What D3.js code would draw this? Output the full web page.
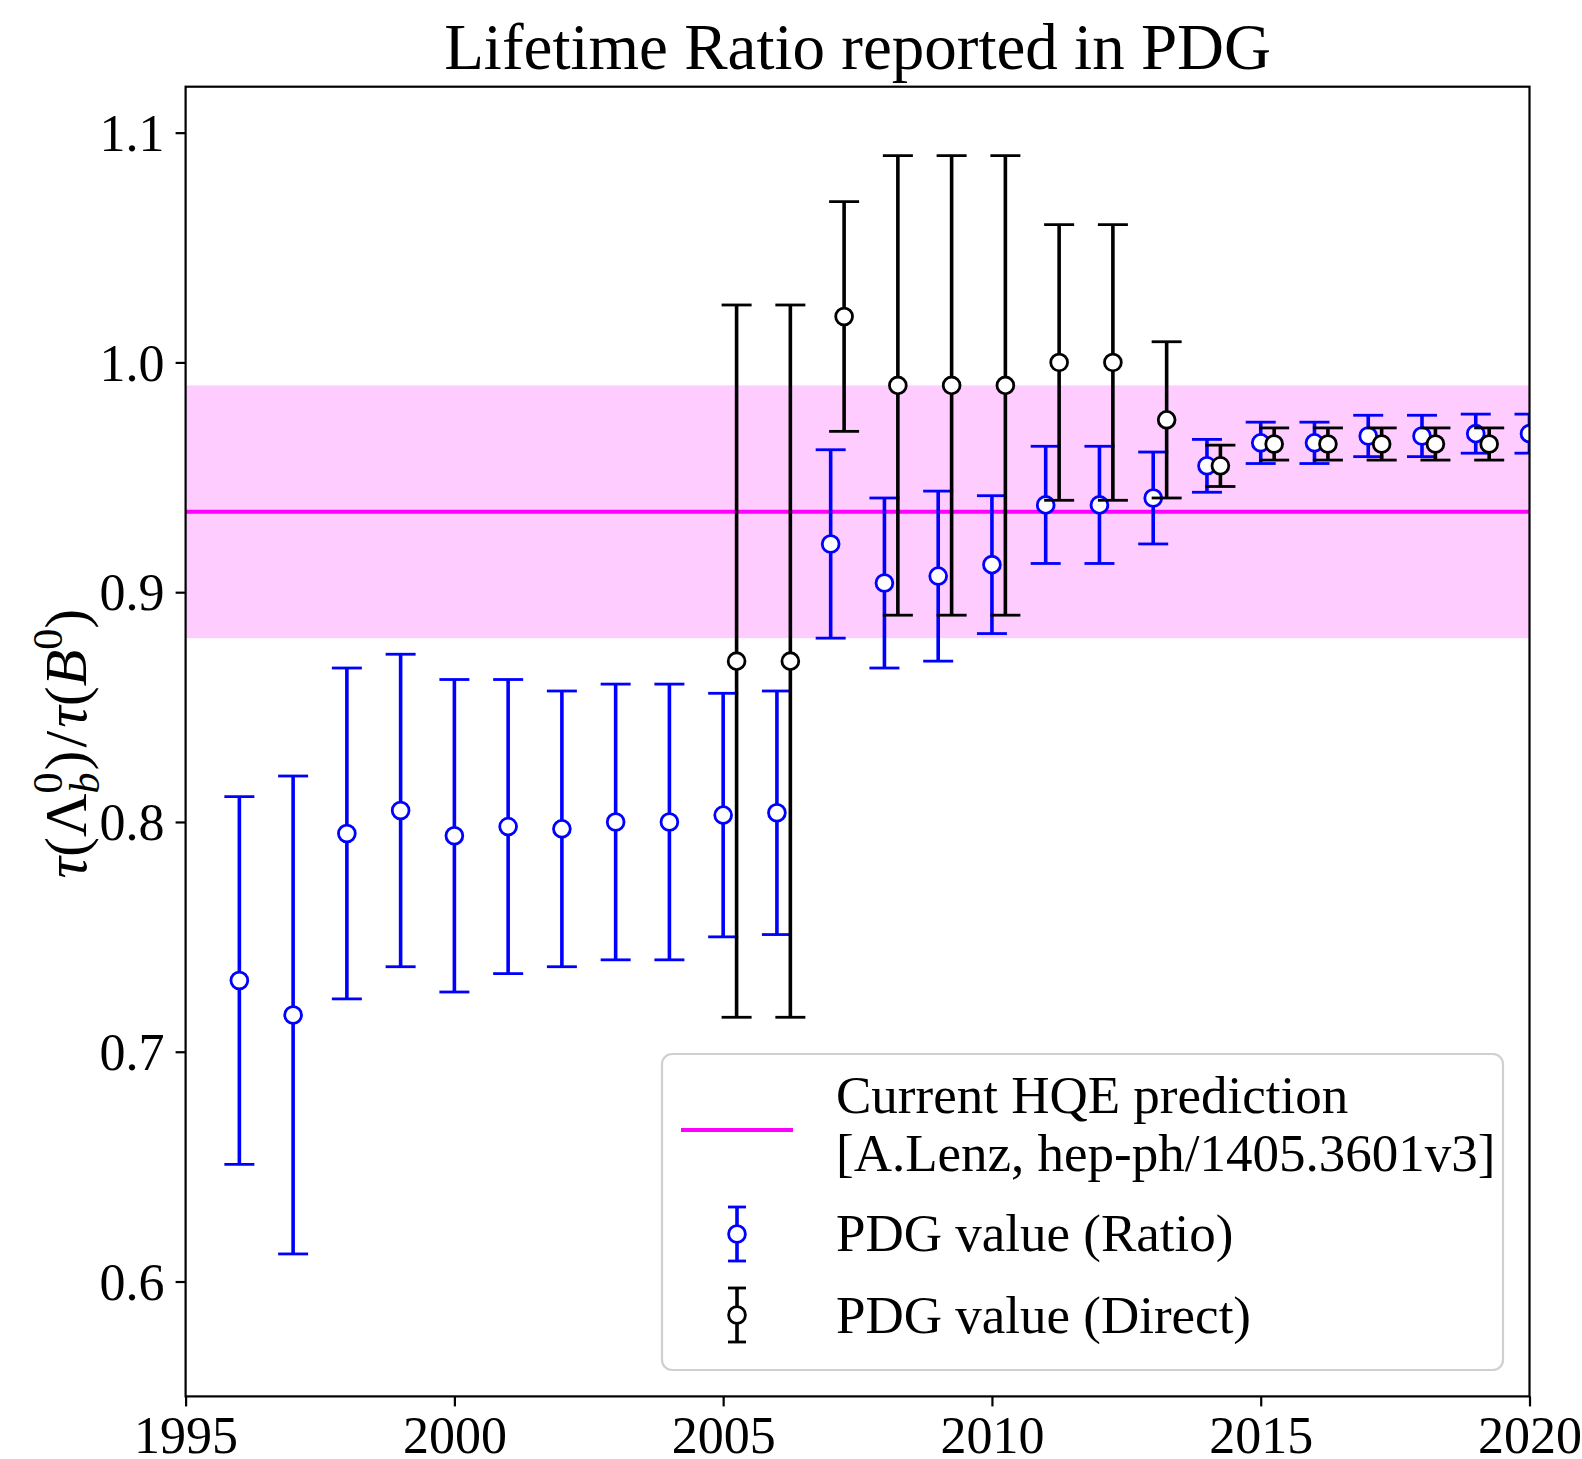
<!DOCTYPE html>
<html>
<head>
<meta charset="utf-8">
<script src="https://cdn.jsdelivr.net/npm/d3@7"></script>
<style>
  body { margin: 0; background: #fff; }
  svg text { font-family: "Liberation Serif", "Times New Roman", serif; fill: #000; }
</style>
</head>
<body>
<div id="container"></div>
<script>
var width = 1582;
var height = 1459;

// Plot data
var ratioYears = [1996, 1997, 1998, 1999, 2000, 2001, 2002, 2003, 2004, 2005, 2006, 2007, 2008,
                  2009, 2010, 2011, 2012, 2013, 2014, 2015, 2016, 2017, 2018, 2019, 2020];
var ratioValues = [0.731, 0.716, 0.795, 0.805, 0.794, 0.798, 0.797, 0.800, 0.800, 0.803, 0.804, 0.921, 0.904,
                   0.907, 0.912, 0.938, 0.938, 0.941, 0.955, 0.965, 0.965, 0.968, 0.968, 0.969, 0.969];
var ratioErrors = [0.080, 0.104, 0.072, 0.068, 0.068, 0.064, 0.060, 0.060, 0.060, 0.053, 0.053, 0.041, 0.037,
                   0.037, 0.030, 0.0255, 0.0255, 0.020, 0.0115, 0.009, 0.009, 0.009, 0.009, 0.0085, 0.0085];

var directYears = [2005, 2006, 2007, 2008, 2009, 2010, 2011, 2012, 2013, 2014, 2015, 2016, 2017, 2018, 2019];
var directValues = [0.870, 0.870, 1.020, 0.990, 0.990, 0.990, 1.000, 1.000, 0.975, 0.955, 0.9645, 0.9645, 0.9645, 0.9645, 0.9645];
var directErrors = [0.155, 0.155, 0.050, 0.100, 0.100, 0.100, 0.060, 0.060, 0.034, 0.009, 0.007, 0.007, 0.007, 0.007, 0.007];
var directShift = 0.25;   // direct values drawn a quarter year to the right

var hqeCentral = 0.935;
var hqeLow = 0.88;
var hqeHigh = 0.99;

var xTicks = [1995, 2000, 2005, 2010, 2015, 2020];
var yTicks = [0.6, 0.7, 0.8, 0.9, 1.0, 1.1];

var legendLabels = [["Current HQE prediction", "[A.Lenz, hep-ph/1405.3601v3]"],
                    ["PDG value (Ratio)"], ["PDG value (Direct)"]];

var margin = {left: 185.6, right: 1529.5, top: 86.7, bottom: 1396.4};

var svg = d3.select("div#container").append("svg")
    .attr("width", width)
    .attr("height", height)
    .attr("viewBox", "0 0 " + width + " " + height);

var x = d3.scaleLinear().domain([1995, 2020]).range([margin.left, margin.right]);
var y = d3.scaleLinear().domain([0.55, 1.12]).range([margin.bottom, margin.top]);

svg.append("clipPath").attr("id", "plotclip")
  .append("rect")
    .attr("x", margin.left).attr("y", margin.top)
    .attr("width", margin.right - margin.left)
    .attr("height", margin.bottom - margin.top);

var plot = svg.append("g").attr("clip-path", "url(#plotclip)");

// HQE band and central line
plot.append("rect")
    .attr("x", margin.left).attr("width", margin.right - margin.left)
    .attr("y", y(hqeHigh)).attr("height", y(hqeLow) - y(hqeHigh))
    .attr("fill", "#ffccff");

plot.append("line")
    .attr("x1", margin.left).attr("x2", margin.right)
    .attr("y1", y(hqeCentral)).attr("y2", y(hqeCentral))
    .attr("stroke", "#ff00ff").attr("stroke-width", 4);

function drawErrorbars(g, xs, vals, errs, color) {
  var rows = xs.map(function(d, i) { return {x: d, v: vals[i], e: errs[i]}; });
  var cap = 15;
  var grp = g.append("g");
  var item = grp.selectAll("g").data(rows).enter().append("g");
  item.append("line")
      .attr("x1", function(d) { return x(d.x); }).attr("x2", function(d) { return x(d.x); })
      .attr("y1", function(d) { return y(d.v + d.e); }).attr("y2", function(d) { return y(d.v - d.e); })
      .attr("stroke", color).attr("stroke-width", 3.6);
  [1, -1].forEach(function(s) {
    item.append("line")
        .attr("x1", function(d) { return x(d.x) - cap; }).attr("x2", function(d) { return x(d.x) + cap; })
        .attr("y1", function(d) { return y(d.v + s * d.e); }).attr("y2", function(d) { return y(d.v + s * d.e); })
        .attr("stroke", color).attr("stroke-width", 2.8);
  });
  item.append("circle")
      .attr("cx", function(d) { return x(d.x); })
      .attr("cy", function(d) { return y(d.v); })
      .attr("r", 8.4)
      .attr("fill", "#fff").attr("stroke", color).attr("stroke-width", 2.8);
}

drawErrorbars(plot, ratioYears, ratioValues, ratioErrors, "#0000ff");
drawErrorbars(plot, directYears.map(function(d) { return d + directShift; }), directValues, directErrors, "#000");

// axes
var xAxis = d3.axisBottom(x).tickValues(xTicks).tickSize(10).tickPadding(10).tickFormat(d3.format("d"));
var yAxis = d3.axisLeft(y).tickValues(yTicks).tickSize(10).tickPadding(11).tickFormat(d3.format(".1f"));

var gx = svg.append("g").attr("transform", "translate(0," + margin.bottom + ")").call(xAxis);
var gy = svg.append("g").attr("transform", "translate(" + margin.left + ",0)").call(yAxis);
[gx, gy].forEach(function(g) {
  g.select(".domain").remove();
  g.selectAll(".tick line").attr("stroke", "#000").attr("stroke-width", 2.2);
  g.selectAll(".tick text").style("font-family", "Liberation Serif, serif").attr("font-size", 52).attr("fill", "#000");
});
gx.selectAll(".tick text").attr("dy", "0.70em");
gy.selectAll(".tick text").attr("dy", "0.34em");

svg.append("rect")
    .attr("x", margin.left).attr("y", margin.top)
    .attr("width", margin.right - margin.left).attr("height", margin.bottom - margin.top)
    .attr("fill", "none").attr("stroke", "#000").attr("stroke-width", 2.2);

// title
svg.append("text")
    .attr("x", (margin.left + margin.right) / 2).attr("y", 69)
    .attr("text-anchor", "middle").attr("font-size", 65)
    .text("Lifetime Ratio reported in PDG");

// y label: tau(Lambda_b^0)/tau(B^0)
var ylab = svg.append("text")
    .attr("transform", "translate(86," + ((margin.top + margin.bottom) / 2 + 2) + ") rotate(-90)")
    .attr("text-anchor", "middle").attr("font-size", 60);
ylab.append("tspan").attr("font-style", "italic").text("τ");
ylab.append("tspan").text("(Λ");
ylab.append("tspan").attr("font-size", 42).attr("dy", -24).text("0");
ylab.append("tspan").attr("font-size", 42).attr("font-style", "italic").attr("dx", -21).attr("dy", 37).text("b");
ylab.append("tspan").attr("dy", -13).attr("dx", 2).text(")");
ylab.append("tspan").attr("dx", 3).text("/");
ylab.append("tspan").attr("dx", 3).attr("font-style", "italic").text("τ");
ylab.append("tspan").text("(");
ylab.append("tspan").attr("font-style", "italic").text("B");
ylab.append("tspan").attr("font-size", 42).attr("dy", -24).text("0");
ylab.append("tspan").attr("dy", 24).text(")");

// legend
var leg = svg.append("g");
leg.append("rect")
    .attr("x", 662).attr("y", 1054).attr("width", 841).attr("height", 316)
    .attr("rx", 10).attr("ry", 10)
    .attr("fill", "#fff").attr("fill-opacity", 0.8)
    .attr("stroke", "#d0d0d0").attr("stroke-width", 2.2);

leg.append("line")
    .attr("x1", 681).attr("x2", 793).attr("y1", 1130).attr("y2", 1130)
    .attr("stroke", "#ff00ff").attr("stroke-width", 4);

function legendErr(cx, cy, color) {
  var g = leg.append("g");
  g.append("line").attr("x1", cx).attr("x2", cx).attr("y1", cy - 27).attr("y2", cy + 27)
      .attr("stroke", color).attr("stroke-width", 3.6);
  [-27, 27].forEach(function(o) {
    g.append("line").attr("x1", cx - 9).attr("x2", cx + 9).attr("y1", cy + o).attr("y2", cy + o)
        .attr("stroke", color).attr("stroke-width", 2.8);
  });
  g.append("circle").attr("cx", cx).attr("cy", cy).attr("r", 8.4)
      .attr("fill", "#fff").attr("stroke", color).attr("stroke-width", 2.8);
}
legendErr(737, 1234, "#0000ff");
legendErr(737, 1315, "#000");

var legBaselines = [[1113, 1171], [1251], [1333]];
legendLabels.forEach(function(lines, i) {
  lines.forEach(function(t, j) {
    leg.append("text").attr("x", 836).attr("y", legBaselines[i][j])
        .attr("font-size", 53).text(t);
  });
});
</script>
</body>
</html>
